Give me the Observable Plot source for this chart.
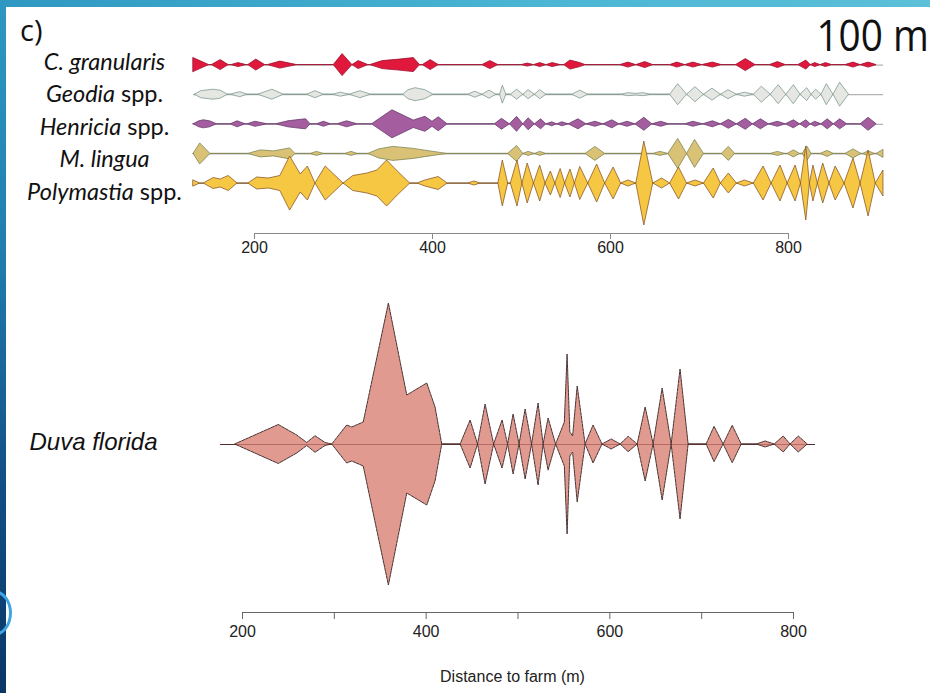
<!DOCTYPE html>
<html>
<head>
<meta charset="utf-8">
<script src="https://cdn.jsdelivr.net/npm/d3@7"></script>
<script src="https://cdn.jsdelivr.net/npm/@observablehq/plot@0.6"></script>
<style>
  html, body { margin: 0; padding: 0; background: #fff; }
  #page { position: relative; width: 930px; height: 693px; background: #fff; overflow: hidden; }
  .band-top { position: absolute; left: 0; top: 0; width: 930px; height: 7px;
    background: linear-gradient(90deg, #2e98c2, #4cb6d4 60%, #5bc0d8); }
  .band-left { position: absolute; left: 0; top: 0; width: 6px; height: 693px;
    background: linear-gradient(180deg, #2e98c2 0%, #217fb0 35%, #124f86 70%, #0a3766 100%); }
  .ring { position: absolute; left: -24px; top: 590px; width: 30px; height: 40px; border-radius: 50%;
    border: 3px solid #3fa4e6; }
  #lab-c { position: absolute; left: 20px; top: 10px; font-family: "Open Sans", sans-serif; font-size: 29px; color: #111; }
  #lab-100 { position: absolute; right: 1px; top: 5px; font-family: "Open Sans", "DejaVu Sans", sans-serif;
    font-weight: 400; font-size: 43px; color: #111; transform: scaleX(0.9); transform-origin: right top; }
  #top { position: absolute; left: 0; top: 40px; }
  #bottom { position: absolute; left: 0; top: 270px; }
  svg { overflow: visible; }
</style>
</head>
<body>
<div id="page">
  <div class="band-top"></div>
  <div class="band-left"></div>
  <div class="ring"></div>
  <div id="lab-c">c)</div>
  <div id="lab-100">100 m</div>
  <div id="top"></div>
  <div id="bottom"></div>
</div>
<script>
// ---------------- DATA (distance to farm in m, kite half-width = abundance) ----------------
const speciesTop = ["C. granularis", "Geodia spp.", "Henricia spp.", "M. lingua", "Polymastia spp."];

const granularis = [
  [131.5,7],[149,0],[152,0],[162,5],[171,0],[174,0],[182,2],[191,0],[193,0],[202,5.5],[212,0],
  [215,0],[229,3.5],[248,0],[289,0],[299,11],[310,0],[317,4],[328,0],[330,0],[344,4],[363,5.5],[379,7],[386,0],
  [389,0],[398,5],[407,0],[456,0],[465,4],[474,0],[500,0],[507,1.5],[514,0],[521,2],[528,0],[535,2],[544,0],
  [548,0],[555,4.5],[566,2],[572,0],[611,0],[620,2.5],[629,0],[639,3],[648,0],
  [667,0],[675,2.5],[684,0],[693,2.5],[703,0],[715,2.5],[725,0],[741,0],[752,6],[763,0],
  [779,0],[788,3],[797,0],[811,0],[820,4.5],[825,0],[830,2],[836,0],[842,2],[849,0],
  [864,0],[873,2.5],[881,0],[890,2.5],[899,0]
];
const geodia = [
  [133,0],[140,3.5],[154,5],[162,4],[170,0],[173,0],[184,2.5],[192,0],[204,0],[220,5],[233,0],
  [259,0],[268.5,3.5],[278,0],[288,0],[297,2],[307,0],[319,3.5],[331,0],
  [367,0],[373,4.5],[381,6.5],[392,4.5],[401,0],
  [440,0],[448,3],[456,0],[464,4],[472,0],[476,0],[479,9],[483,0],[488,0],[495,5],[502,0],[508,4.5],[515,0],[521,4.5],[528,0],
  [557,0],[566,4],[575,0],[612,0],[620,1.5],[629,0.8],[637,1.5],[646,0],
  [667,0],[676,10.5],[686,0],[695.5,7.5],[705,0],[714.6,6],[724,0],[732.6,4.5],[742,0],[751,2],[761,0],
  [770,8],[780,0],[789,9.5],[797.5,0],[806,9.5],[813.5,0],[821,6.5],[826,0],[831,5],[837,0],
  [843,10.5],[850.5,0],[858,12],[868,0]
];
const henricia = [
  [131.5,0],[138,3],[143,4],[150,3],[158,0],[173,0],[181,3],[190,0],[192,0],[201,2.5],[215,0],
  [224,0],[238,3],[252,4.5],[258,5],[263,0],[270,0],[278,2.5],[286,0],[293,0],[304,3],[316,0],
  [332,0],[355,14],[379,3.7],[392,7.5],[400,2.5],[407,7],[417,0],
  [470,0],[478,5.5],[487,0],[495,7.5],[502,0],[508,6],[515,0],[522,5],[528,0],[534.5,2],[540,0],[546,2],[553,0],
  [564,5],[573,0],[583,2.5],[592,0],[602,4],[610,0],[619,2.5],[628,0],[638,6.5],[647,0],[657,2.5],[666,0],
  [684,0],[693,2.5],[704,0],[715,3],[724,0],[733,4.5],[742,0],[752,5.5],[760,0],[769,5],[778,0],
  [788,2.5],[797,0],[806,4],[813,0],[820,4],[825,0],[830,2.5],[837,0],[844,5],[851,0],[858,5],[866,0],
  [881,0],[890,6.5],[899,0]
];
const mLingua = [
  [131.5,0],[139,10.5],[150.5,0],[193,0],[207,3.5],[222,2.5],[240,5.5],[246,0],
  [263,0],[270,2],[278,0],[302,0],[309,2],[316,0],
  [328,0],[340,4.5],[356,7],[379,5],[401,2],[417,0],
  [485,0],[495,8],[502,0],[508,2],[515,0],[521,2],[528,0],[572,0],[583,7],[594,0],
  [648,0],[656,2],[665,0],[676,15],[686,0],[695,14],[705,0],[725,0],[733,7],[740,0],
  [780,0],[788,2],[796,0],[799,0],[806,3.5],[813,0],[816,0],[821,7.5],[826,0],
  [836,0],[844,3],[851,0],[864,0],[873,4.5],[882,0],[884,0],[890,2.5],[897,0],[899,0],[906.7,4]
];
const polymastia = [
  [131.5,3],[139,0],[143,0],[154,5.5],[162,4],[171,7.5],[181,0],
  [193,0],[203,6],[216,5],[229,7.5],[240,27],[252,9],[260,17],[268.5,0],[280,17],[300,0],
  [311,7.5],[327,10],[338,13],[349,23],[361,12],[375,0],[383,0],[392,3],[407,6.5],[417,0],
  [440,0],[447,2],[454,0],[474,0],[479,23],[485,0],
  [488,0],[495.5,23],[501,0],[507,20],[514,0],[521,18],[527,0],[533,12],[538,0],[544,14.5],[549,0],
  [555,14],[560,0],[566,16.5],[575,0],[585,19],[594,0],[603.5,16],[612,0],[620,3],[629,0],
  [638,42],[648,0],[658,5],[667,0],[677,16],[686,0],[695.5,3],[705,0],[716,15],[724,0],[733,10],[742,0],
  [751,3],[761,0],[772,17],[781,0],[791,18],[799,0],[808,18],[814,0],[820,37],[824,0],[828,18],[833,0],
  [839,20],[846,0],[853,17],[863,0],[873,25],[881,0],[890,33],[898,0],[906.7,13]
];
const duvaFlorida = [
  [192,0],[239.5,19.5],[259.6,9],[270.5,1.5],[279.5,8.3],[290.4,1.5],[297.7,0],
  [314,19],[319.5,17],[332,22],[359.4,141],[379.4,49],[401.2,61],[410.2,37],[417.5,0],
  [437.5,0],[448.4,24],[456.5,0],[464.7,40],[474,0],[483.2,24],[489.2,0],[495.2,30],[501.7,0],
  [508.3,35],[515.3,0],[522.4,41],[527.9,0],[533.3,26],[541.5,0],[551,22],[554,90],[557,12],[560,8],
  [565,58],[573.6,0],[582.3,19],[592,0],[602,5],[611.8,0],[620.5,7.7],[630.3,0],[639,37],[647.7,0],
  [657.5,56],[667.3,0],[677,75],[685.8,0],[705.4,0],[714,17.7],[723.9,0],[733.8,18.7],[743.6,0],
  [760,0],[769.7,3],[779.5,0],[789.3,8],[796.8,0],[805.7,8],[815.5,0]
];
const duvaLineExtent = [176, 824];

const topTicks = [200, 400, 600, 800];
const bottomTicks = [200, 300, 400, 500, 600, 700, 800];
const bottomTickLabels = [200, 400, 600, 800];

// ---------------- STYLE ----------------
const topFills   = ["#e0183c", "#e6e6e3", "#a45ea0", "#d9c176", "#f6c743"];
const topStrokes = ["#a01030", "#7d9a90", "#6a3a6e", "#7f8552", "#8d5a2a"];
const rowSpacing = 29.6;
const labelSpacing = 32.5;

// ---------------- TOP PANEL ----------------
const topSeries = [granularis, geodia, henricia, mLingua, polymastia];
const rows = speciesTop.map((name, i) => ({name, c: -i * rowSpacing, data: topSeries[i], fill: topFills[i], stroke: topStrokes[i]}));
const xMin = d3.min(topSeries, s => d3.min(s, d => d[0]));
const xMax = d3.max(topSeries, s => d3.max(s, d => d[0]));
const yTop = [-168.4, 24.6];

const topMarks = [
  Plot.ruleY(rows, {y: "c", x1: () => xMin, x2: () => xMax, stroke: "#a0a0a0", strokeWidth: 1})
];
rows.forEach(r => {
  topMarks.push(Plot.areaY(r.data, {
    x: d => d[0], y1: d => r.c - d[1], y2: d => r.c + d[1],
    fill: r.fill, stroke: r.stroke, strokeWidth: 0.8, strokeLinejoin: "round"
  }));
});
topMarks.push(
  Plot.ruleY([yTop[0]], {x1: () => topTicks[0], x2: () => topTicks[topTicks.length - 1], stroke: "#8a8a8a", strokeWidth: 1}),
  Plot.axisX(topTicks, {tickSize: 6, tickPadding: 2, stroke: "#8a8a8a", fill: "#222", fontSize: 16}),
  Plot.text(speciesTop, {
    frameAnchor: "left", dx: 104, y: (d, i) => 3 - i * labelSpacing, text: d => d,
    textAnchor: "middle", fontSize: 23.5, fontFamily: "Lato, 'Open Sans', sans-serif", fill: "#111"
  })
);

const topPlot = Plot.plot({
  width: 930, height: 225,
  marginTop: 0, marginBottom: 32, marginLeft: 0, marginRight: 0,
  x: {domain: [200, 800], range: [254, 788]},
  y: {domain: yTop, range: [193, 0], axis: null},
  style: {fontFamily: "'Liberation Sans', Arial, sans-serif", fontSize: "16px", background: "transparent", overflow: "visible"},
  marks: topMarks
});
// italic genus names, roman "spp."
const ns = "http://www.w3.org/2000/svg";
topPlot.querySelectorAll("text").forEach(t => {
  const s = t.textContent;
  if (!speciesTop.includes(s)) return;
  while (t.firstChild) t.removeChild(t.firstChild);
  const m = s.match(/^(.*?)( spp\.)$/);
  const a = document.createElementNS(ns, "tspan");
  a.setAttribute("font-style", "italic");
  a.style.fontStyle = "italic";
  a.textContent = m ? m[1] : s;
  t.appendChild(a);
  if (m) {
    const b = document.createElementNS(ns, "tspan");
    b.textContent = m[2];
    t.appendChild(b);
  }
});
document.getElementById("top").appendChild(topPlot);

// ---------------- BOTTOM PANEL ----------------
const yBottom = [-168, 174];
const bottomPlot = Plot.plot({
  width: 930, height: 423,
  marginTop: 0, marginBottom: 81, marginLeft: 0, marginRight: 0,
  x: {domain: [200, 800], range: [242, 793]},
  y: {domain: yBottom, range: [342, 0], axis: null},
  style: {fontFamily: "'Liberation Sans', Arial, sans-serif", fontSize: "16px", background: "transparent", overflow: "visible"},
  marks: [
    Plot.ruleY([0], {x1: () => duvaLineExtent[0], x2: () => duvaLineExtent[1], stroke: "#333", strokeWidth: 1.2}),
    Plot.areaY(duvaFlorida, {x: d => d[0], y1: d => -d[1], y2: d => d[1],
      fill: "#e09a8f", stroke: "#4a3434", strokeWidth: 1, strokeDasharray: "3,1", strokeLinejoin: "round"}),
    Plot.ruleY([0], {x1: () => duvaLineExtent[0], x2: () => duvaLineExtent[1], stroke: "#7a2a2a", strokeWidth: 0.6, strokeOpacity: 0.7}),
    Plot.ruleY([yBottom[0]], {x1: () => bottomTicks[0], x2: () => bottomTicks[bottomTicks.length - 1], stroke: "#666", strokeWidth: 1}),
    Plot.axisX(bottomTicks, {tickSize: 7, tickPadding: 6, stroke: "#666", fill: "#222", fontSize: 16,
      tickFormat: d => bottomTickLabels.includes(d) ? String(d) : ""}),
    Plot.text(["Duva florida"], {frameAnchor: "left", dx: 93, y: () => 2, text: d => d, textAnchor: "middle",
      fontStyle: "italic", fontSize: 24, fill: "#111"}),
    Plot.text(["Distance to farm (m)"], {x: () => d3.mean(bottomTickLabels) - 6, frameAnchor: "bottom", dy: 69,
      text: d => d, fontSize: 16, fill: "#222"})
  ]
});
document.getElementById("bottom").appendChild(bottomPlot);
</script>
</body>
</html>
